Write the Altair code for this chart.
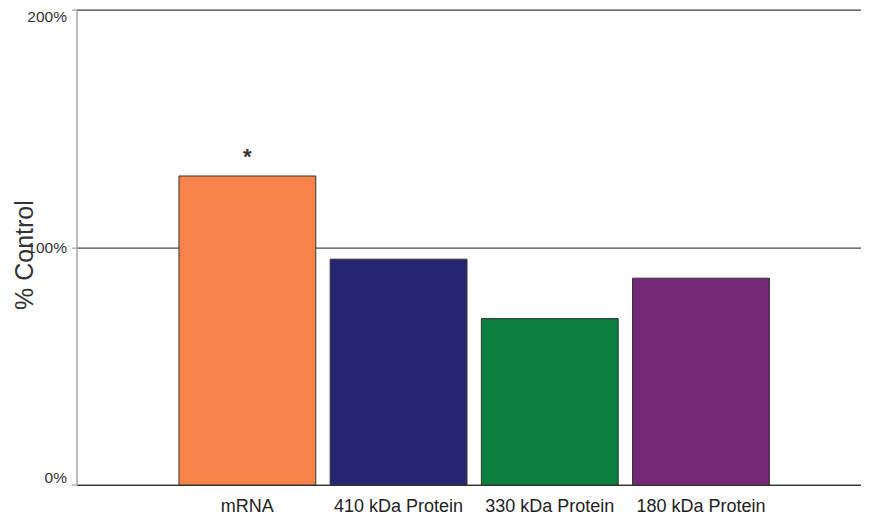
import altair as alt
import pandas as pd

categories = ["mRNA", "410 kDa Protein", "330 kDa Protein", "180 kDa Protein"]
values = [130, 95, 70, 87]
colors = ["#F7834A", "#25266F", "#0B7F3E", "#742975"]
marks = ["*", "", "", ""]
y_ticks = [0, 100, 200]

df = pd.DataFrame({"cat": categories, "val": values, "mark": marks})

x = alt.X("cat:N", sort=categories, title=None,
          scale=alt.Scale(paddingInner=0.095, paddingOuter=0.6416, align=0.528),
          axis=alt.Axis(labelAngle=0, ticks=False, domain=True, domainColor="#333333",
                        domainWidth=1.2, labelFont="Liberation Sans", labelFontSize=18,
                        labelColor="#222222", labelPadding=12, grid=False))
y = alt.Y("val:Q", title="% Control",
          scale=alt.Scale(domain=[0, 200], nice=False, zero=True),
          axis=alt.Axis(values=y_ticks, labelExpr="datum.value + '%'", labelFlush=True,
                        labelFont="Liberation Sans", labelFontSize=15.5, labelColor="#333333",
                        tickColor="#888888", tickSize=5, labelPadding=5,
                        domainColor="#aaaaaa", domainWidth=1.5,
                        grid=True, gridColor="#444444", gridWidth=1.3,
                        titleFont="Liberation Sans", titleFontSize=25, titleFontWeight="normal",
                        titleColor="#333333", titleX=-52, titleY=245,
                        titleAlign="center", titleBaseline="middle"))

bars = alt.Chart(df).mark_bar(stroke="#333333", strokeWidth=1).encode(
    x=x, y=y,
    color=alt.Color("cat:N", sort=categories,
                    scale=alt.Scale(domain=categories, range=colors), legend=None),
)

txt = alt.Chart(df).mark_text(font="Liberation Sans", fontSize=22, fontWeight="bold",
                              color="#333333", baseline="alphabetic", dy=-12).encode(
    x=alt.X("cat:N", sort=categories), y=alt.Y("val:Q"), text="mark:N")

chart = alt.layer(bars, txt).properties(
    width=784.5, height=475.4,
    autosize=alt.AutoSizeParams(type="none"),
    padding={"left": 68.5, "top": 1.6, "right": 0, "bottom": 32},
).configure_view(stroke=None).configure(background="white")

chart.save("out.html", embed_options={"renderer": "svg", "actions": False})
